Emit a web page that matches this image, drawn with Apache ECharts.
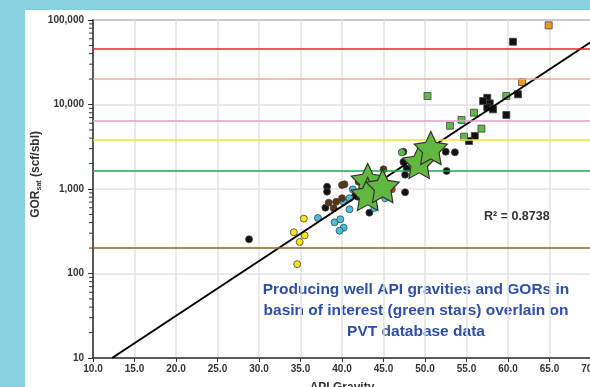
<!DOCTYPE html>
<html>
<head>
<meta charset="utf-8">
<script src="https://cdn.jsdelivr.net/npm/echarts@6/dist/echarts.min.js"></script>
<style>
  html, body { margin: 0; padding: 0; }
  body { width: 590px; height: 387px; background: #88d2e0; position: relative; overflow: hidden; }
  #panel { position: absolute; left: 25px; top: 10px; width: 570px; height: 380px; background: #fff; }
  #chart { position: absolute; left: 0; top: 0; width: 590px; height: 387px; }
</style>
</head>
<body>
<div id="panel"></div>
<div id="chart"></div>
<script>
// [API gravity, GOR scf/sbl]
const blackDots = [
  [28.8, 254], [38.2, 1065], [38.2, 930], [38.0, 601], [41.9, 811], [43.3, 525],
  [41.6, 850], [47.4, 2090], [47.6, 1476], [47.6, 914], [47.4, 2760],
  [52.5, 2760], [52.6, 1634], [53.6, 2720], [47.8, 1750]
];
const yellowDots = [[35.4, 446], [34.2, 308], [35.5, 283], [34.9, 236], [34.6, 129]];
const cyanDots = [
  [37.1, 454], [39.1, 403], [39.8, 438], [40.2, 348], [39.7, 321], [40.9, 575],
  [40.9, 776], [40.2, 702], [41.3, 991], [43.9, 596], [45.2, 776]
];
const brownDots = [
  [38.4, 689], [39.3, 708], [40.0, 777], [39.0, 592], [40.3, 1137], [40.0, 1115],
  [42.0, 1220], [45.0, 1710]
];
const redDots = [[46.0, 991]];
const greenDots = [[47.2, 2718]];
const blackSquares = [
  [60.6, 55300], [57.5, 12000], [57.8, 10300], [57.5, 9270], [58.2, 8770],
  [61.2, 13200], [59.8, 7520], [56.0, 4240], [55.3, 3700], [57.0, 11000]
];
const greenSquares = [
  [50.3, 12600], [59.8, 12600], [55.9, 8000], [54.4, 6560], [53.0, 5610],
  [56.8, 5180], [54.7, 4160]
];
const orangeSquares = [[64.9, 86500], [61.7, 18450]];
const basinStars = [[43.1, 1280], [43.1, 873], [44.9, 1085], [49.3, 2090], [50.7, 3055]];
const trendLine = [[12.3, 10], [70, 55000]];
const gorLimits = [
  { value: 46000, color: '#e8232a' },
  { value: 20000, color: '#f4a3a3' },
  { value: 6500, color: '#e39bd2' },
  { value: 3800, color: '#f3e623' },
  { value: 1650, color: '#20a64c' },
  { value: 200, color: '#8c6420' }
];
const minorTicks = [];
[10, 100, 1000, 10000].forEach(d => {
  for (let k = 2; k <= 9; k++) minorTicks.push([10, d * k]);
});

const starPath = 'path://M50 0 L64.69 29.78 L97.55 34.55 L73.78 57.73 L79.39 90.45 L50 75 L20.61 90.45 L26.22 57.73 L2.45 34.55 L35.31 29.78 Z';

function dots(data, color, symbol) {
  return {
    type: 'scatter',
    data: data,
    symbol: symbol || 'circle',
    symbolSize: 7,
    itemStyle: { color: color, borderColor: '#444', borderWidth: 0.8, opacity: 1 },
    z: 3
  };
}

const chart = echarts.init(document.getElementById('chart'));

chart.setOption({
  animation: false,
  textStyle: { fontFamily: 'Liberation Sans, Arial, sans-serif' },
  grid: {
    left: 93, top: 20, width: 498, height: 338, outerBoundsMode: 'none', containLabel: false,
    show: true, borderColor: '#555', borderWidth: 1.5, backgroundColor: 'transparent'
  },
  xAxis: {
    type: 'value', min: 10, max: 70, interval: 5,
    name: 'API Gravity', nameLocation: 'middle', nameGap: 24,
    nameTextStyle: { fontSize: 12, fontWeight: 'bold', color: '#333' },
    axisLine: { lineStyle: { color: '#333', width: 1.5 } },
    axisTick: { show: true, length: 4, lineStyle: { color: '#333' } },
    axisLabel: { fontSize: 10, fontWeight: 'bold', color: '#333', margin: 6, formatter: v => v.toFixed(1) },
    splitLine: { show: true, lineStyle: { color: '#e2e2e2', width: 1.5 } }
  },
  yAxis: {
    type: 'log', logBase: 10, min: 10, max: 100000,
    axisLine: { show: true, lineStyle: { color: '#333', width: 1.5 } },
    axisTick: { show: true, length: 5, lineStyle: { color: '#333' } },
    axisLabel: { fontSize: 10, fontWeight: 'bold', color: '#333', margin: 9,
      formatter: v => Math.round(v).toLocaleString('en-US') },
    splitLine: { show: true, lineStyle: { color: '#e2e2e2', width: 1.5 } }
  },
  graphic: [
    {
      type: 'text', left: 30, top: 131, rotation: Math.PI / 2,
      style: {
        text: '{b|GOR}{s|sat}{b| (scf/sbl)}',
        rich: {
          b: { fontSize: 12, fontWeight: 'bold', fill: '#333', fontFamily: 'Liberation Sans' },
          s: { fontSize: 7, fontWeight: 'bold', fill: '#333', fontFamily: 'Liberation Sans', padding: [6, 0, 0, 0] }
        }
      }
    },
    {
      type: 'text', left: 484, top: 210,
      style: { text: 'R² = 0.8738', fontSize: 12.5, fontWeight: 'bold', fill: '#333', fontFamily: 'Liberation Sans' }
    },
    {
      type: 'text', x: 416, y: 279,
      style: {
        text: 'Producing well API gravities and GORs in\nbasin of interest (green stars) overlain on\nPVT database data',
        align: 'center', lineHeight: 21, fontSize: 15.5, fontWeight: 'bold',
        fill: '#2f4fa6', fontFamily: 'Liberation Sans'
      }
    }
  ],
  series: [
    {
      type: 'scatter', data: minorTicks, symbol: 'rect', symbolSize: [4, 1],
      symbolOffset: [-2, 0], itemStyle: { color: '#333', opacity: 1 }, clip: false, silent: true, z: 1
    },
    {
      type: 'line', data: [], markLine: {
        silent: true, symbol: 'none', label: { show: false },
        data: gorLimits.map(g => ({ yAxis: g.value, lineStyle: { color: g.color, width: 1.6, type: 'solid' } }))
      }
    },
    dots(blackDots, '#111'),
    dots(yellowDots, '#f4e41e'),
    dots(cyanDots, '#43c0dc'),
    dots(brownDots, '#5a3516'),
    dots(redDots, '#e8202a'),
    dots(greenDots, '#5fb848'),
    dots(blackSquares, '#111', 'rect'),
    dots(greenSquares, '#5fb848', 'rect'),
    dots(orangeSquares, '#f39a1b', 'rect'),
    {
      type: 'line', data: trendLine, symbol: 'none',
      lineStyle: { color: '#000', width: 2 }, z: 4
    },
    {
      type: 'scatter', data: basinStars, symbol: starPath, symbolSize: 33,
      itemStyle: { color: '#62b83f', borderColor: '#333', borderWidth: 1.2, opacity: 1 }, z: 5
    }
  ]
});
</script>
</body>
</html>
